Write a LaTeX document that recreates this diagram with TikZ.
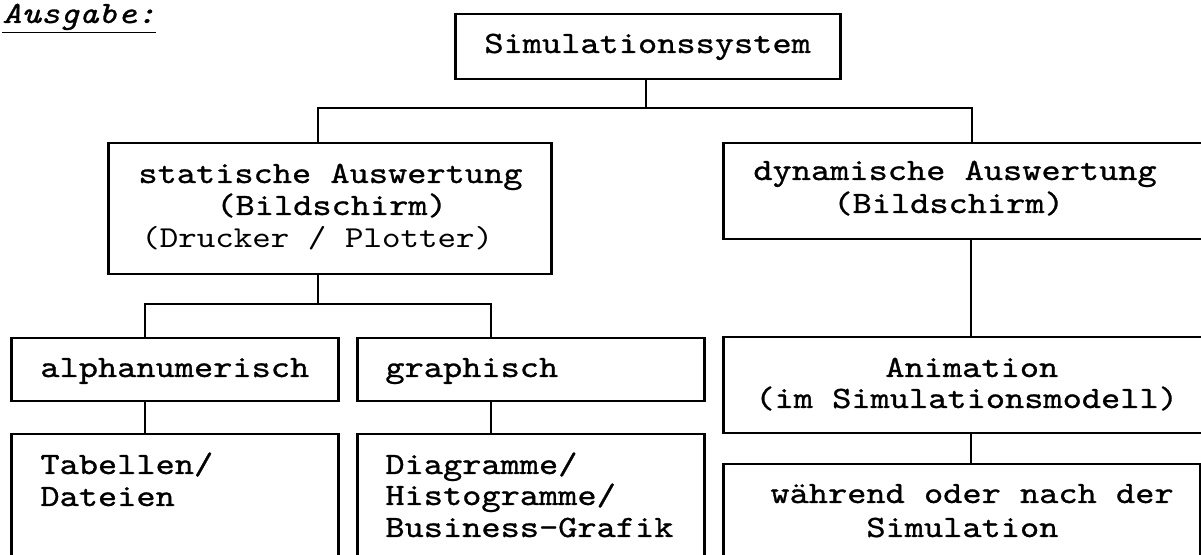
\documentclass[tikz,border=0pt]{standalone}
\usepackage{fontspec}
\newfontfamily\courfam[FakeStretch=1.18, FakeBold=0.9, ItalicFont=lmmono10-italic.otf]{lmmono10-regular.otf}
\newfontfamily\courlight[FakeStretch=1.16]{lmmono10-regular.otf}
\newcommand{\boxfont}{\courfam\fontsize{15.5}{15.75}\selectfont}
\newcommand{\lightfont}{\courlight\fontsize{15.2}{15.75}\selectfont}
\tikzset{
  boxnode/.style={draw, line width=1.25pt, rectangle, inner sep=0pt, anchor=north west},
  conn/.style={line width=1.1pt},
  txt/.style={anchor=base west, inner sep=0pt, font=\boxfont, text height=10pt, text depth=2.5pt},
}
\begin{document}
\begin{tikzpicture}[x=0.5pt,y=-0.5pt]
\useasboundingbox (0,0) rectangle (1201,555);
\clip (0,0) rectangle (1201,555);
% title
\node[anchor=base west, inner sep=0pt, font=\boxfont\itshape] (ausgabe) at (2,23) {\underline{Ausgabe:}};
% boxes
\node[boxnode, minimum width=192.5pt, minimum height=32.5pt] (sim) at (454,13) {};
\node[boxnode, minimum width=221.5pt, minimum height=65.5pt] (stat) at (107,142) {};
\node[boxnode, minimum width=270pt, minimum height=48pt] (dyn) at (722,142) {};
\node[boxnode, minimum width=163.5pt, minimum height=31.5pt] (alpha) at (10,337) {};
\node[boxnode, minimum width=173.5pt, minimum height=31.5pt] (graph) at (356,337) {};
\node[boxnode, minimum width=163.5pt, minimum height=90pt] (tab) at (10,433) {};
\node[boxnode, minimum width=173.5pt, minimum height=90pt] (diag) at (356,433) {};
\node[boxnode, minimum width=270pt, minimum height=48pt] (anim) at (722,336) {};
\node[boxnode, minimum width=238.5pt, minimum height=90pt] (wahr) at (722,463) {};
% texts
\node[txt] (simT) at (484,53) {Simulationssystem};
\node[txt] (statT1) at (138,183) {statische Auswertung};
\node[txt] (statT2) at (216,215) {(Bildschirm)};
\node[txt, font=\lightfont] (statT3) at (141,248) {(Drucker / Plotter)};
\node[txt] (dynT1) at (753,180) {dynamische Auswertung};
\node[txt] (dynT2) at (833,213) {(Bildschirm)};
\node[txt] (alphaT) at (40,377) {alphanumerisch};
\node[txt] (graphT) at (385,377) {graphisch};
\node[txt] (tabT1) at (40,474) {Tabellen/};
\node[txt] (tabT2) at (40,506) {Dateien};
\node[txt] (diagT1) at (385,474) {Diagramme/};
\node[txt] (diagT2) at (385,505) {Histogramme/};
\node[txt] (diagT3) at (385,537) {Business-Grafik};
\node[txt] (animT1) at (885,377) {Animation};
\node[txt] (animT2) at (755,408) {(im Simulationsmodell)};
\node[txt] (wahrT1) at (770,503) {während oder nach der};
\node[txt] (wahrT2) at (866,537) {Simulation};
% connectors
\coordinate (j1) at (646,108);
\coordinate (j2) at (318,304);
\draw[conn] (sim.south -| j1) -- (j1);
\draw[conn] (stat.north -| 318,0) |- (j1) -| (dyn.north -| 972,0);
\draw[conn] (stat.south -| j2) -- (j2);
\draw[conn] (alpha.north -| 145,0) |- (j2) -| (graph.north -| 491,0);
\draw[conn] (alpha.south -| 145,0) -- (tab.north -| 145,0);
\draw[conn] (graph.south -| 491,0) -- (diag.north -| 491,0);
\draw[conn] (dyn.south -| 971,0) -- (anim.north -| 971,0);
\draw[conn] (anim.south -| 971,0) -- (wahr.north -| 971,0);
\end{tikzpicture}
\end{document}
